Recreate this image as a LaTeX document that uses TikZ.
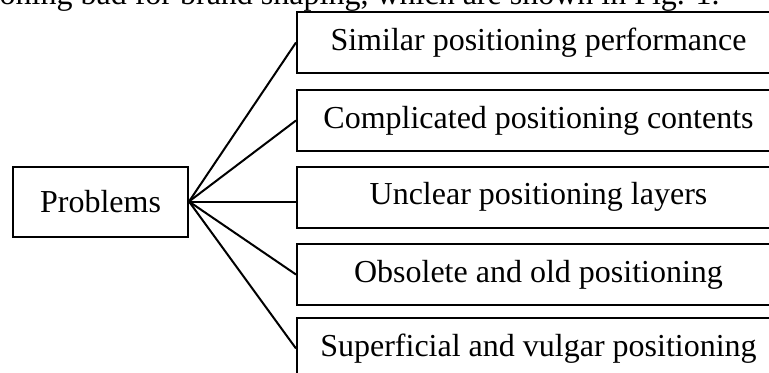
\documentclass[tikz,border=0pt]{standalone}
\usepackage{fontspec}
\setmainfont{Liberation Serif}
\usetikzlibrary{calc,positioning}

\tikzset{
	every item/.style={draw,line width=1pt,minimum width=241.5pt,minimum height=30.5pt,inner sep=0pt},
	root box/.style={draw,line width=1pt,minimum width=87.5pt,minimum height=35pt,inner sep=0pt},
}

\begin{document}
\begin{tikzpicture}[x=0.5pt,y=-0.5pt,font=\fontsize{16}{19}\selectfont]
	\useasboundingbox (0,0) rectangle (769,372);
	\clip (0,0) rectangle (769,372);
	\node [anchor=base east,inner sep=0pt] (caption) at (720,4)
		{oning bad for brand shaping, which are shown in Fig. 1.};
	\node [root box] (problems) at (100.5,201.5) {Problems};
	\foreach \t/\yy [count=\i] in {Similar positioning performance/42.5,
			Complicated positioning contents/120.5,
			Unclear positioning layers/197,
			Obsolete and old positioning/274.5,
			Superficial and vulgar positioning/348.5}
		\node [every item] (item-\i) at (538.5,\yy) {\t};
	\foreach \i in {1,2,4,5}
		\draw [line width=1pt] (problems.east) -- (item-\i.west);
	\draw [line width=1pt] (problems.east) -- (item-3.west |- problems.east);
\end{tikzpicture}
\end{document}
